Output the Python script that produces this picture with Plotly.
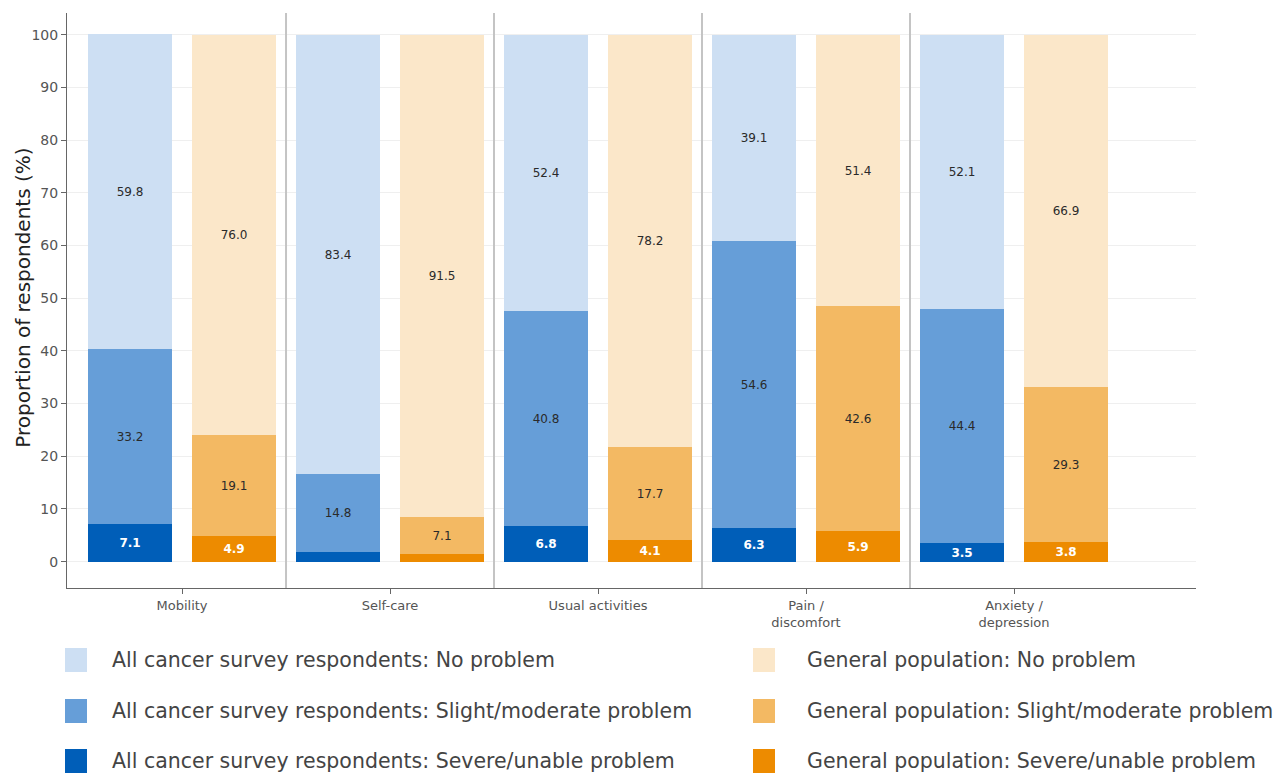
import plotly.graph_objects as go

# EQ-5D dimensions
dimensions = ["Mobility", "Self-care", "Usual activities", "Pain /<br>discomfort", "Anxiety /<br>depression"]

# All cancer survey respondents (%)
cancer_no = [59.8, 83.4, 52.4, 39.1, 52.1]
cancer_slight = [33.2, 14.8, 40.8, 54.6, 44.4]
cancer_severe = [7.1, 1.8, 6.8, 6.3, 3.5]
cancer_severe_labels = ["7.1", "", "6.8", "6.3", "3.5"]

# General population (%)
general_no = [76.0, 91.5, 78.2, 51.4, 66.9]
general_slight = [19.1, 7.1, 17.7, 42.6, 29.3]
general_severe = [4.9, 1.4, 4.1, 5.9, 3.8]
general_severe_labels = ["4.9", "", "4.1", "5.9", "3.8"]

y_ticks = list(range(0, 101, 10))

blue_colors = ["#005eb8", "#669ed8", "#cddff3"]
orange_colors = ["#ed8b00", "#f3b963", "#fbe7c9"]

FONT = "DejaVu Sans"
idx = list(range(len(dimensions)))
x_cancer = [i - 0.25 for i in idx]
x_general = [i + 0.25 for i in idx]

fig = go.Figure()


def add_stack(xs, values, labels, color, text_color, weight, name):
    fig.add_trace(go.Bar(
        x=xs, y=values, width=0.4, name=name,
        marker=dict(color=color, line=dict(width=0)),
        text=labels, texttemplate="%{text}",
        textposition="inside", insidetextanchor="middle", textangle=0,
        insidetextfont=dict(family=FONT, size=12, color=text_color, weight=weight),
        constraintext="none", showlegend=False,
        hovertemplate=name + ": %{y:.1f}%<extra></extra>",
    ))


fmt = lambda vals: [f"{v:.1f}" for v in vals]

add_stack(x_cancer, cancer_severe, cancer_severe_labels, blue_colors[0], "white", "bold",
          "All cancer survey respondents: Severe/unable problem")
add_stack(x_cancer, cancer_slight, fmt(cancer_slight), blue_colors[1], "#2a2a2a", "normal",
          "All cancer survey respondents: Slight/moderate problem")
add_stack(x_cancer, cancer_no, fmt(cancer_no), blue_colors[2], "#2a2a2a", "normal",
          "All cancer survey respondents: No problem")
add_stack(x_general, general_severe, general_severe_labels, orange_colors[0], "white", "bold",
          "General population: Severe/unable problem")
add_stack(x_general, general_slight, fmt(general_slight), orange_colors[1], "#2a2a2a", "normal",
          "General population: Slight/moderate problem")
add_stack(x_general, general_no, fmt(general_no), orange_colors[2], "#2a2a2a", "normal",
          "General population: No problem")

# vertical separators between dimension groups
for i in idx[:-1]:
    fig.add_shape(type="line", xref="x", yref="paper", x0=i + 0.5, x1=i + 0.5,
                  y0=0, y1=1, line=dict(color="#c4c4c4", width=2), layer="above")

# legend drawn as two columns of swatches with labels
legend_rows = [
    ("All cancer survey respondents: No problem", blue_colors[2], "General population: No problem", orange_colors[2]),
    ("All cancer survey respondents: Slight/moderate problem", blue_colors[1], "General population: Slight/moderate problem", orange_colors[1]),
    ("All cancer survey respondents: Severe/unable problem", blue_colors[0], "General population: Severe/unable problem", orange_colors[0]),
]
plot_left, plot_w, plot_bottom, plot_h = 67, 1129, 588, 575
px = lambda v: (v - plot_left) / plot_w
py = lambda v: (plot_bottom - v) / plot_h
row_y = [660, 711, 761]
for (l_text, l_col, r_text, r_col), yc in zip(legend_rows, row_y):
    for sx, tx, text, col in [(65, 110, l_text, l_col), (753, 805, r_text, r_col)]:
        fig.add_shape(type="rect", xref="paper", yref="paper",
                      x0=px(sx), x1=px(sx + 22), y0=py(yc + 12), y1=py(yc - 12),
                      fillcolor=col, line=dict(width=0))
        fig.add_annotation(xref="paper", yref="paper", x=px(tx), y=py(yc),
                           text=text, showarrow=False, xanchor="left", yanchor="middle",
                           font=dict(family=FONT, size=20.5, color="#444444"))

# y-axis title
fig.add_annotation(xref="paper", yref="paper", x=px(23), y=0.5 + 0.005,
                   text="Proportion of respondents (%)", textangle=-90, showarrow=False,
                   xanchor="center", yanchor="middle",
                   font=dict(family=FONT, size=20, color="#222222"))

fig.update_layout(
    barmode="relative",
    width=1279, height=776,
    margin=dict(l=67, r=83, t=13, b=188),
    paper_bgcolor="white", plot_bgcolor="white",
    font=dict(family=FONT, color="#555555"),
    bargap=0,
)
fig.update_xaxes(
    range=[-0.553, 4.875], tickvals=idx, ticktext=dimensions,
    showline=True, linecolor="#666666", linewidth=1,
    ticks="outside", ticklen=5, tickcolor="#666666",
    tickfont=dict(family=FONT, size=13, color="#555555"),
    showgrid=False, zeroline=False,
)
fig.update_yaxes(
    range=[-5, 104.1], tickvals=y_ticks,
    showline=True, linecolor="#666666", linewidth=1,
    ticks="outside", ticklen=5, tickcolor="#666666",
    tickfont=dict(family=FONT, size=14, color="#555555"),
    showgrid=True, gridcolor="#efefef", gridwidth=1, zeroline=False,
)

fig.write_html("out.html")
